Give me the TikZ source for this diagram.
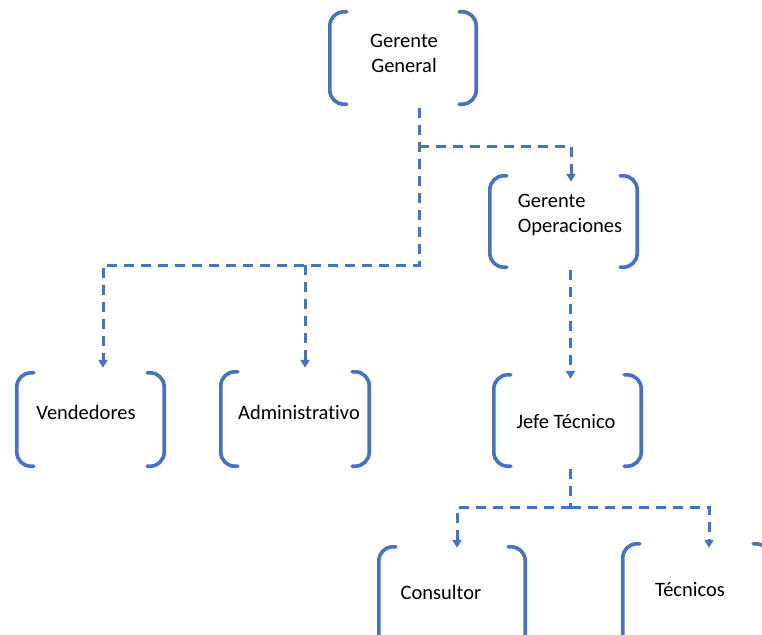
\documentclass[tikz,border=0pt]{standalone}
\usepackage{fontspec}
\setmainfont{Carlito}[Ligatures=NoCommon]
\usetikzlibrary{arrows.meta}
\definecolor{accent}{HTML}{4472C4}
\begin{document}
\begin{tikzpicture}[x=1pt,y=-1pt,
  frame/.style={shape=rectangle,inner sep=0pt,draw=none},
  bracket/.style={draw=accent,line width=3.6pt,rounded corners=14pt,line cap=round},
  conn/.style={draw=accent,line width=3pt,dash pattern=on 10pt off 7pt},
  tip/.style={-{Triangle[width=9pt,length=8pt]}},
  label/.style={font=\fontsize{20.5}{25}\selectfont,text=black,inner sep=0pt}]
  % page
  \useasboundingbox (0,0) rectangle (762,634);
  \fill[white] (0,0) rectangle (762,634);

  % bracket frames
  \node[frame,minimum width=146pt,minimum height=92pt] (gg) at (403,58) {};
  \node[frame,minimum width=147pt,minimum height=91pt] (go) at (563.5,221.5) {};
  \node[frame,minimum width=147pt,minimum height=93pt] (ve) at (90.5,419.5) {};
  \node[frame,minimum width=148pt,minimum height=94pt] (ad) at (295,419) {};
  \node[frame,minimum width=147pt,minimum height=91pt] (jt) at (567.5,420.5) {};
  \node[frame,minimum width=146pt,minimum height=110pt] (co) at (452,602) {};
  \node[frame,minimum width=147pt,minimum height=110pt] (te) at (696.5,599) {};

  \foreach \n in {gg,go,ve,ad,jt,co,te}{
    \draw[bracket] ([xshift=17pt]\n.north west) -- (\n.north west) -- (\n.south west) -- ([xshift=17pt]\n.south west);
    \draw[bracket] ([xshift=-17pt]\n.north east) -- (\n.north east) -- (\n.south east) -- ([xshift=-17pt]\n.south east);
  }

  % labels
  \node[label,align=center] (tgg) at (404,53) {Gerente\\General};
  \node[label,align=left] (tgo) at (570,215) {Gerente\\Operaciones};
  \node[label] (tve) at (86,412) {Vendedores};
  \node[label] (tad) at (299,412) {Administrativo};
  \node[label] (tjt) at (566,422) {Jefe Técnico};
  \node[label] (tco) at (441,592) {Consultor};
  \node[label] (tte) at (690,590) {Técnicos};

  % connector ends and junctions
  \coordinate (ggout) at ([shift={(16,4)}]gg.south);
  \coordinate (jA) at (419,146);
  \coordinate (jB) at (419,265);
  \coordinate (veIn) at ([shift={(12.5,-5)}]ve.north);
  \coordinate (adIn) at ([shift={(10,-4)}]ad.north);
  \coordinate (goIn) at ([shift={(7.5,6)}]go.north);
  \coordinate (goOut) at ([shift={(7,3)}]go.south);
  \coordinate (jtIn) at ([shift={(3,4)}]jt.north);
  \coordinate (jtOut) at ([shift={(3,3)}]jt.south);
  \coordinate (jC) at (570.5,507);
  \coordinate (coIn) at ([shift={(5,1)}]co.north);
  \coordinate (teIn) at ([shift={(12.5,4)}]te.north);

  % connectors
  \draw[conn,tip] (ggout) -- (jB) -| (veIn);
  \draw[conn,tip] (jB -| adIn) -- (adIn);
  \draw[conn,tip] (jA) -| (goIn);
  \draw[conn,tip] (goOut) -- (jtIn);
  \draw[conn] (jtOut) -- (jC);
  \draw[conn,tip] (jC) -| (coIn);
  \draw[conn,tip] (jC) -| (teIn);
\end{tikzpicture}
\end{document}
